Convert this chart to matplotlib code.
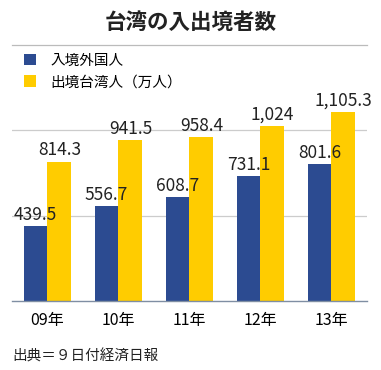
import matplotlib
matplotlib.use('Agg')
import matplotlib.pyplot as plt
import numpy as np

plt.rcParams['font.family'] = ['Noto Sans CJK JP', 'DejaVu Sans']

# data
years = ['09年', '10年', '11年', '12年', '13年']
inbound = [439.5, 556.7, 608.7, 731.1, 801.6]
outbound = [814.3, 941.5, 958.4, 1024, 1105.3]
inbound_lbl = ['439.5', '556.7', '608.7', '731.1', '801.6']
outbound_lbl = ['814.3', '941.5', '958.4', '1,024', '1,105.3']
names = ['入境外国人', '出境台湾人（万人）']

BLUE = '#2c4b91'
YELLOW = '#ffcc00'

fig = plt.figure(figsize=(3.81, 3.70), dpi=100)
ax = fig.add_axes([12/381, 69/370, 355/381, 205/370])

x = np.arange(len(years))
w = 0.335
b1 = ax.bar(x - w/2, inbound, w, color=BLUE, label=names[0], zorder=3)
b2 = ax.bar(x + w/2, outbound, w, color=YELLOW, label=names[1], zorder=3)

for xi, v, s in zip(x, inbound, inbound_lbl):
    ax.text(xi - w/2, v + 14, s, ha='center', va='bottom', fontsize=12.5, color='#222222')
for xi, v, s in zip(x, outbound, outbound_lbl):
    ax.text(xi + w/2, v + 14, s, ha='center', va='bottom', fontsize=12.5, color='#222222')

ax.set_xlim(-0.5, 4.5)
ax.set_ylim(0, 1200)
ax.set_yticks([500, 1000])
ax.set_yticklabels([])
ax.tick_params(axis='y', length=0)
ax.yaxis.grid(True, color='#cccccc', linewidth=0.9, zorder=0)
ax.set_xticks(x)
ax.set_xticklabels(years, fontsize=11.5)
ax.tick_params(axis='x', length=0, pad=8)
for s in ['left', 'right', 'top']:
    ax.spines[s].set_visible(False)
ax.spines['bottom'].set_color('#7f8ea3')
ax.spines['bottom'].set_linewidth(1.0)
ax.spines['bottom'].set_zorder(4)

fig.text(0.5, 1 - 22/370, '台湾の入出境者数', ha='center', va='center',
         fontsize=15.5, fontweight='bold', color='#222222')
fig.add_artist(plt.Line2D([12/381, 367/381], [1 - 45/370, 1 - 45/370],
                          color='#bbbbbb', linewidth=0.9))

fig.legend(handles=[b1, b2], labels=names, loc='upper left',
           bbox_to_anchor=(18/381, 1 - 48/370), frameon=False, fontsize=10.5,
           handlelength=0.8, handleheight=0.8, handletextpad=1.0,
           labelspacing=0.5, borderaxespad=0)

fig.text(12/381, 1 - 356/370, '出典＝９日付経済日報', ha='left', va='center',
         fontsize=10.5, color='#222222')

fig.savefig('out.png', dpi=100)
